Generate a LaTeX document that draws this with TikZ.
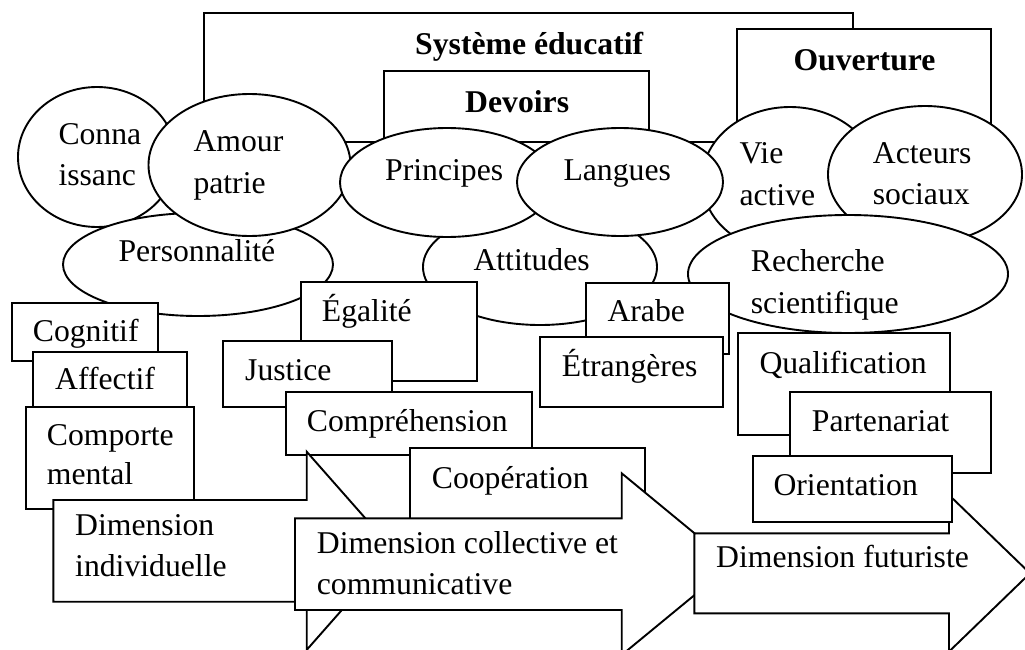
\documentclass[tikz,border=0pt]{standalone}
\usepackage{fontspec}
\setmainfont{Liberation Serif}
\usetikzlibrary{shapes.geometric}
\begin{document}
\begin{tikzpicture}[x=1pt,y=-1pt,
  shapeline/.style={draw=black, line width=1.9pt, fill=white, line join=miter},
  oval/.style={shapeline, ellipse, inner sep=0pt, outer sep=0pt},
  word/.style={inner sep=0pt, anchor=base west, font=\fontsize{31.7}{38}\selectfont},
  heading/.style={word, font=\fontsize{31.7}{38}\selectfont\bfseries}]
\useasboundingbox (0,0) rectangle (1025,650);

% frames of the upper part
\draw[shapeline] (204,13.3) rectangle (852.7,141.7);
\draw[shapeline] (384,71) rectangle (649.3,141.7);
\draw[shapeline] (737.3,29.3) rectangle (991,150);
\node[heading] (systeme) at (415,55) {Système éducatif};
\node[heading] (devoirs) at (465,112.7) {Devoirs};
\node[heading] (ouverture) at (793.3,70.7) {Ouverture};

% ovals
\node[oval, minimum width=158pt, minimum height=140pt] (connaissance) at (97,157) {};
\node[oval, minimum width=270pt, minimum height=103pt] (personnalite) at (198,264.5) {};
\node[oval, minimum width=202pt, minimum height=142pt] (amour) at (249.5,165) {};
\node[oval, minimum width=234pt, minimum height=116pt] (attitudes) at (540,267) {};
\node[oval, minimum width=176pt, minimum height=146pt] (vieactive) at (790,180) {};
\node[oval, minimum width=214pt, minimum height=109pt] (principes) at (447,182.5) {};
\node[oval, minimum width=206pt, minimum height=108pt] (langues) at (620,182) {};
\node[oval, minimum width=194pt, minimum height=137pt] (acteurs) at (925,174.5) {};
\node[oval, minimum width=320pt, minimum height=118pt] (recherche) at (848,274) {};

\node[word] (t-conna1) at (58.3,145) {Conna};
\node[word] (t-conna2) at (58.3,185) {issanc};
\node[word] (t-pers) at (118.3,261.7) {Personnalité};
\node[word] (t-amour1) at (193.3,151.7) {Amour};
\node[word] (t-amour2) at (193.3,193.3) {patrie};
\node[word] (t-att) at (473.3,270) {Attitudes};
\node[word] (t-vie1) at (739.3,163.3) {Vie};
\node[word] (t-vie2) at (739.3,205) {active};
\node[word] (t-princ) at (385,180) {Principes};
\node[word] (t-lang) at (563.3,180) {Langues};
\node[word] (t-act1) at (872.7,163.3) {Acteurs};
\node[word] (t-act2) at (872.7,204) {sociaux};
\node[word] (t-rech1) at (750.7,271.7) {Recherche};
\node[word] (t-rech2) at (750.7,313.3) {scientifique};

% boxes of the middle row
\draw[shapeline] (301,281.7) rectangle (477.3,380.7);
\node[word] (t-egal) at (321.7,321.7) {Égalité};
\draw[shapeline] (223.3,340.7) rectangle (391.7,406.7);
\node[word] (t-just) at (245,380) {Justice};
\draw[shapeline] (286,392.3) rectangle (531.7,455);
\node[word] (t-compr) at (306.7,431.7) {Compréhension};
\draw[shapeline] (410,447.7) rectangle (645,530);
\node[word] (t-coop) at (431.7,488.3) {Coopération};

\draw[shapeline] (585.7,282.7) rectangle (728.7,354);
\node[word] (t-arabe) at (607.3,321.7) {Arabe};
\draw[shapeline] (540,337.3) rectangle (723.3,406.7);
\node[word] (t-etr) at (561.7,376.7) {Étrangères};

\draw[shapeline] (11.7,303.3) rectangle (158.3,361);
\node[word] (t-cogn) at (32.7,341) {Cognitif};
\draw[shapeline] (32.7,352.3) rectangle (186.7,410);
\node[word] (t-aff) at (55,389) {Affectif};
\draw[shapeline] (26,406.7) rectangle (194,509.3);
\node[word] (t-comp1) at (46.7,445) {Comporte};
\node[word] (t-comp2) at (46.7,484) {mental};

% the three block arrows
\draw[shapeline] (53.3,500) -- (306.7,500) -- (306.7,451.7) -- (394,550.8)
  -- (306.7,649.9) -- (306.7,601.7) -- (53.3,601.7) -- cycle;
\node[word] (t-ind1) at (75,535) {Dimension};
\node[word] (t-ind2) at (75,576.7) {individuelle};

\draw[shapeline] (295,518.3) -- (621.7,518.3) -- (621.7,473.3) -- (732,564.2)
  -- (621.7,655) -- (621.7,610) -- (295,610) -- cycle;
\node[word] (t-coll1) at (316.7,553.3) {Dimension collective et};
\node[word] (t-coll2) at (316.7,594.3) {communicative};

\draw[shapeline] (694.3,533.3) -- (949,533.3) -- (949,495) -- (1030,573.3)
  -- (949,651.6) -- (949,613.3) -- (694.3,613.3) -- cycle;
\node[word] (t-fut) at (716,567.3) {Dimension futuriste};

% boxes of the right column
\draw[shapeline] (737.7,333.3) rectangle (950,435);
\node[word] (t-qual) at (759.3,373.3) {Qualification};
\draw[shapeline] (790,391.7) rectangle (991,473.3);
\node[word] (t-part) at (811.7,431.7) {Partenariat};
\draw[shapeline] (752.7,455.7) rectangle (951.7,521.7);
\node[word] (t-orient) at (773.3,495) {Orientation};
\end{tikzpicture}
\end{document}
